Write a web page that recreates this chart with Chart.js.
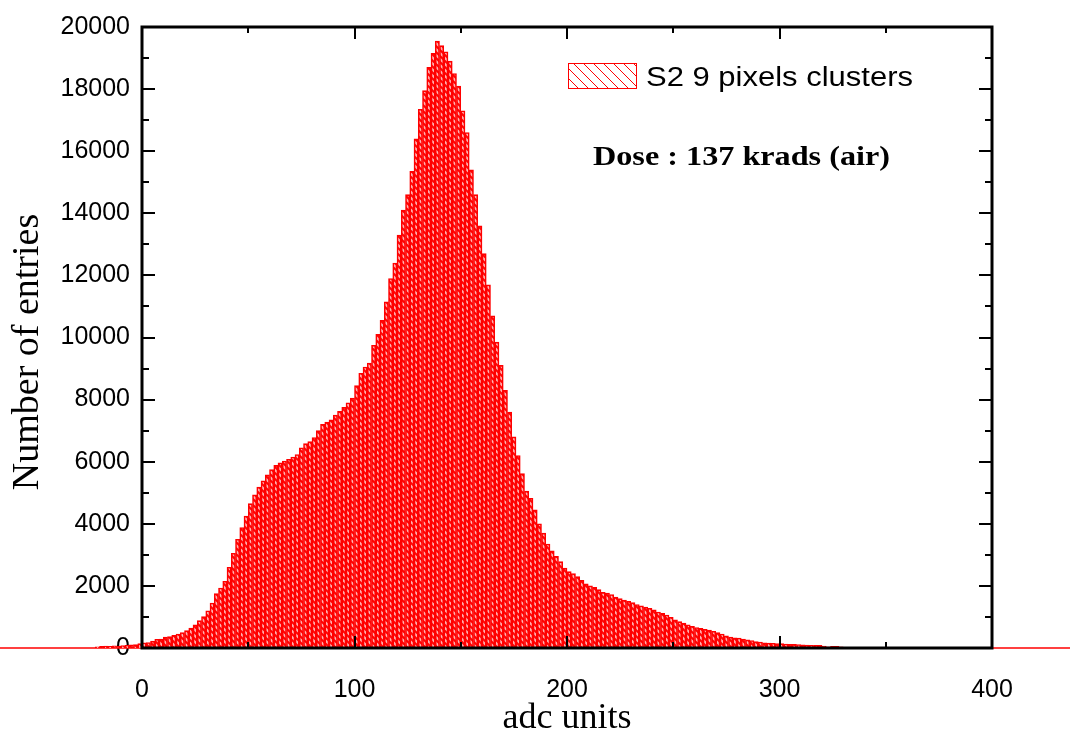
<!DOCTYPE html>
<html lang="en">
<head>
<meta charset="UTF-8">
<title>S2 9 pixels clusters</title>
<script src="https://cdn.jsdelivr.net/npm/chart.js"></script>
<style>
  html, body { margin: 0; padding: 0; background: #fff; }
</style>
</head>
<body>
<canvas id="histo" width="1070" height="740"></canvas>
<script>
// histogram bins (adc units, 2 units wide) and number of entries
const binCenters = [
  -21, -19, -17, -15, -13, -11, -9, -7, -5, -3, -1,
  1, 3, 5, 7, 9, 11, 13, 15, 17, 19, 21, 23, 25, 27, 29, 31, 33, 35, 37, 39,
  41, 43, 45, 47, 49, 51, 53, 55, 57, 59, 61, 63, 65, 67, 69, 71, 73, 75, 77, 79,
  81, 83, 85, 87, 89, 91, 93, 95, 97, 99, 101, 103, 105, 107, 109, 111, 113, 115, 117, 119,
  121, 123, 125, 127, 129, 131, 133, 135, 137, 139, 141, 143, 145, 147, 149, 151, 153, 155, 157, 159,
  161, 163, 165, 167, 169, 171, 173, 175, 177, 179, 181, 183, 185, 187, 189, 191, 193, 195, 197, 199,
  201, 203, 205, 207, 209, 211, 213, 215, 217, 219, 221, 223, 225, 227, 229, 231, 233, 235, 237, 239,
  241, 243, 245, 247, 249, 251, 253, 255, 257, 259, 261, 263, 265, 267, 269, 271, 273, 275, 277, 279,
  281, 283, 285, 287, 289, 291, 293, 295, 297, 299, 301, 303, 305, 307, 309, 311, 313, 315, 317, 319,
  321, 323, 325, 327, 329
];
const counts = [
  40, 50, 60, 50, 70, 60, 80, 90, 100, 110, 140,
  170, 175, 220, 280, 290, 350, 370, 410, 450, 500, 560, 640, 750, 880, 1010, 1200, 1450, 1750, 1930, 2150,
  2600, 3050, 3500, 3880, 4250, 4650, 4930, 5180, 5380, 5580, 5750, 5880, 5960, 6020, 6080, 6150, 6230, 6450, 6580, 6650,
  6780, 7000, 7200, 7280, 7350, 7500, 7620, 7750, 7900, 8050, 8450, 8850, 9050, 9180, 9750, 10100, 10550, 11150, 11900, 12400,
  13300, 14100, 14600, 15350, 16400, 17350, 17950, 18700, 19150, 19550, 19400, 19200, 18900, 18500, 18100, 17300, 16600, 15400, 14600, 13600,
  12700, 11700, 10700, 9850, 9100, 8300, 7600, 6800, 6200, 5620, 5050, 4820, 4450, 4000, 3700, 3350, 3130, 2950, 2780, 2570,
  2460, 2400, 2300, 2180, 2070, 2000, 1950, 1880, 1790, 1770, 1720, 1640, 1590, 1540, 1500, 1460, 1400, 1360, 1320, 1280,
  1230, 1160, 1120, 1060, 990, 910, 850, 800, 750, 700, 660, 630, 600, 575, 540, 500, 450, 390, 350, 330,
  320, 290, 260, 240, 210, 190, 170, 160, 150, 145, 140, 130, 120, 115, 110, 100, 95, 90, 90, 85,
  60, 40, 50, 50, 40
];
// the red zero line that runs past the frame on both sides
const baselineX = [-67, 437];
const baselineY = [0, 0];

const xRange = [0, 400];
const yRange = [0, 20000];
const xStep = 100, xMinor = 50;
const yStep = 2000, yMinor = 1000;

const seriesLabel = 'S2 9 pixels clusters';
const doseNote = 'Dose : 137 krads (air)';
const yTitle = 'Number of entries';

const canvas = document.getElementById('histo');
const ctx = canvas.getContext('2d');

// diagonal hatch used for the bars and the legend swatch
function hatch(size, lw, bg) {
  const c = document.createElement('canvas');
  c.width = size; c.height = size;
  const g = c.getContext('2d');
  g.fillStyle = bg;
  g.fillRect(0, 0, size, size);
  g.strokeStyle = '#ff0000';
  g.lineWidth = lw;
  g.beginPath();
  g.moveTo(-2, -2); g.lineTo(size + 2, size + 2);
  g.moveTo(-2, size - 2); g.lineTo(2, size + 2);
  g.moveTo(size - 2, -2); g.lineTo(size + 2, 2);
  g.stroke();
  return ctx.createPattern(c, 'repeat');
}

// text squeezed or stretched to the width it has in the original
function wideText(c, text, x, y, width) {
  const w = c.measureText(text).width;
  c.save();
  c.translate(x, y);
  c.scale(width / w, 1);
  c.fillText(text, 0, 0);
  c.restore();
}

// frame, inward tick marks, legend, note and y title
const decorations = {
  id: 'decorations',
  afterDatasetsDraw(chart) {
    const c = chart.ctx;
    const a = chart.chartArea;
    const x = chart.scales.x, y = chart.scales.y;
    c.save();
    c.strokeStyle = '#000';
    c.lineWidth = 2;
    c.beginPath();
    for (let v = xRange[0]; v <= xRange[1]; v += xMinor) {
      const px = Math.round(x.getPixelForValue(v));
      const len = v % xStep === 0 ? 12 : 6;
      c.moveTo(px, a.bottom); c.lineTo(px, a.bottom - len);
      c.moveTo(px, a.top); c.lineTo(px, a.top + len);
    }
    for (let v = yRange[0]; v <= yRange[1]; v += yMinor) {
      const py = Math.round(y.getPixelForValue(v));
      const len = v % yStep === 0 ? 13 : 7;
      c.moveTo(a.left, py); c.lineTo(a.left + len, py);
      c.moveTo(a.right, py); c.lineTo(a.right - len, py);
    }
    c.stroke();
    c.lineWidth = 3;
    c.strokeRect(a.left, a.top, a.right - a.left, a.bottom - a.top);

    // legend swatch
    c.fillStyle = hatch(10, 1, '#ffffff');
    c.fillRect(568, 63, 68, 25);
    c.strokeStyle = '#ff0000';
    c.lineWidth = 1;
    c.strokeRect(568.5, 63.5, 68, 25);
    c.fillStyle = '#000';
    c.textBaseline = 'alphabetic';
    c.textAlign = 'left';
    c.font = '27px "Liberation Sans", Arial, sans-serif';
    wideText(c, seriesLabel, 646, 86, 267);

    c.font = 'bold 27px "Liberation Serif", "Times New Roman", serif';
    wideText(c, doseNote, 593, 165, 297);

    // y axis title, a little below the middle of the axis as in the original
    c.save();
    c.translate(28, 352);
    c.rotate(-Math.PI / 2);
    c.textAlign = 'center';
    c.textBaseline = 'middle';
    c.font = '38px "Liberation Serif", "Times New Roman", serif';
    c.fillText(yTitle, 0, 0);
    c.restore();
    c.restore();
  }
};

new Chart(ctx, {
  type: 'bar',
  data: {
    datasets: [
      {
        type: 'line',
        data: baselineX.map((v, i) => ({ x: v, y: baselineY[i] })),
        borderColor: '#ff0000',
        borderWidth: 1.5,
        pointRadius: 0,
        clip: false,
        order: 2
      },
      {
        label: seriesLabel,
        data: binCenters.map((v, i) => ({ x: v, y: counts[i] })),
        backgroundColor: hatch(6, 2, '#ffb4b4'),
        borderColor: '#ff0000',
        borderWidth: 1.6,
        barPercentage: 1,
        categoryPercentage: 1,
        clip: false,
        order: 1
      }
    ]
  },
  options: {
    responsive: false,
    animation: false,
    devicePixelRatio: 1,
    layout: { padding: { left: 0, top: 22, right: 78, bottom: 0 } },
    plugins: { legend: { display: false }, tooltip: { enabled: false } },
    scales: {
      x: {
        type: 'linear',
        offset: false,
        min: xRange[0],
        max: xRange[1],
        grid: { display: false, drawTicks: false, offset: false },
        border: { display: false },
        ticks: {
          stepSize: xStep,
          padding: 27,
          color: '#000',
          font: { family: '"Liberation Sans", Arial, sans-serif', size: 25 },
          callback: v => String(v)
        },
        title: {
          display: true,
          text: 'adc units',
          color: '#000',
          font: { family: '"Liberation Serif", "Times New Roman", serif', size: 36 },
          padding: { top: 0, bottom: 0 }
        },
        afterFit(s) { s.height = 92; }
      },
      y: {
        min: yRange[0],
        max: yRange[1],
        grid: { display: false, drawTicks: false },
        border: { display: false },
        ticks: {
          stepSize: yStep,
          padding: 12,
          color: '#000',
          font: { family: '"Liberation Sans", Arial, sans-serif', size: 25 },
          callback: v => String(v)
        },
        title: { display: false },
        afterFit(s) { s.width = 142; }
      }
    }
  },
  plugins: [decorations]
});
</script>
</body>
</html>
